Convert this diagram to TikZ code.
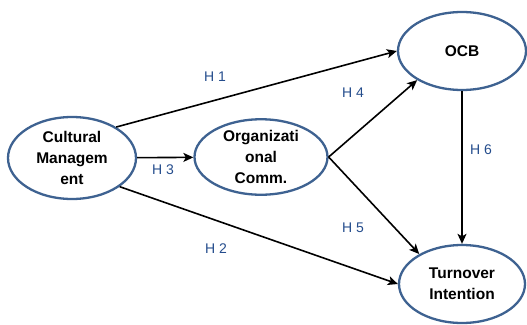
\documentclass[tikz,border=0pt]{standalone}
\usepackage{fontspec}
\setmainfont{Liberation Sans}
\usepackage{tikz}
\usetikzlibrary{shapes.geometric, arrows.meta}
\definecolor{rim}{RGB}{62, 98, 145}
\definecolor{hyp}{RGB}{36, 76, 140}

\begin{document}
\begin{tikzpicture}[x=1pt, y=-1pt,
    construct/.style={ellipse, draw=rim, line width=2.3pt, fill=white, inner sep=0pt,
      align=center, font=\fontsize{15.5}{21}\selectfont\bfseries},
    link/.style={draw, line width=1.6pt, -{Stealth[length=10pt, width=9pt, inset=2.5pt]}},
    hlabel/.style={font=\fontsize{14}{16}\selectfont, text=hyp}]
  \useasboundingbox (0,0) rectangle (527,324);

  % --- constructs ---
  \node[construct, minimum width=128pt, minimum height=82pt] (cm) at (72,158) {Cultural\\Managem\\ent};
  \node[construct, minimum width=133pt, minimum height=73pt] (org) at (261,157) {Organizati\\onal\\Comm.};
  \node[construct, minimum width=128pt, minimum height=78pt] (ocb) at (462,51) {OCB};
  \node[construct, minimum width=126pt, minimum height=78pt] (ti) at (462,284) {Turnover\\Intention};

  % --- hypotheses ---
  \draw[link] (cm.35) -- (ocb.west);
  \draw[link] (cm.-31) -- (ti.west);
  \draw[link] (cm) -- (org);
  \draw[link] (org.east) -- (ocb.213);
  \draw[link] (org.east) -- (ti.145);
  \draw[link] (ocb) -- (ti);

  \node[hlabel] (h1) at (215,77) {H 1};
  \node[hlabel] (h2) at (216,249) {H 2};
  \node[hlabel] (h3) at (163,170) {H 3};
  \node[hlabel] (h4) at (353,93) {H 4};
  \node[hlabel] (h5) at (353,228) {H 5};
  \node[hlabel] (h6) at (481,150) {H 6};
\end{tikzpicture}
\end{document}
